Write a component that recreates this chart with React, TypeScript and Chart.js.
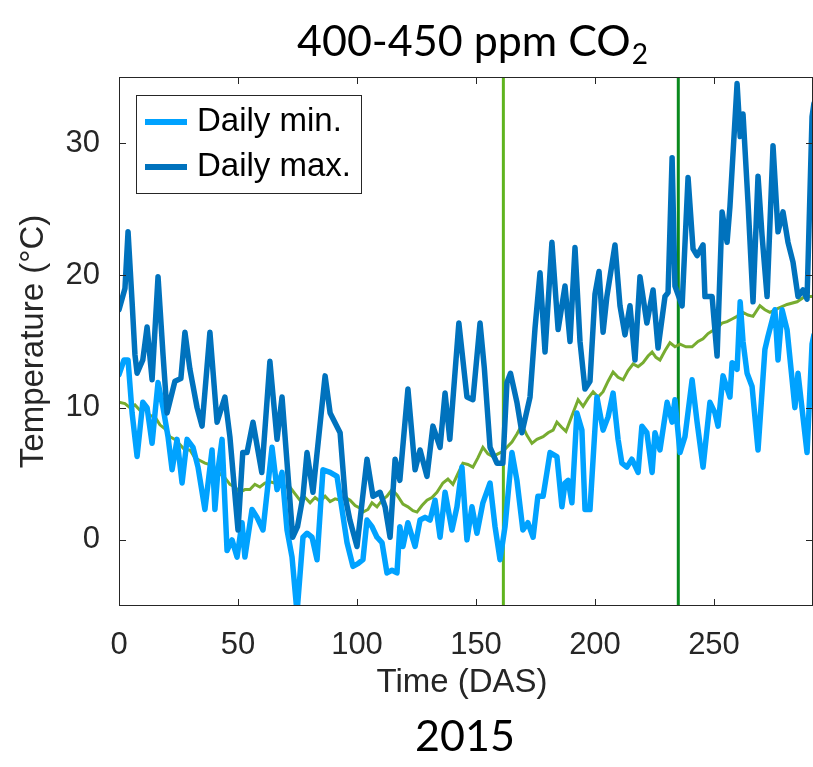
import React, { useEffect, useRef } from "react";
import { Chart, registerables } from "chart.js";

Chart.register(...registerables);

// ---- data ----
const xTicks = [0, 50, 100, 150, 200, 250];
const yTicks = [0, 10, 20, 30];
const xRange = [0, 291.6];
const yRange = [-5, 35];

const maxDays = [0, 2.5, 3.8, 5.5, 6.7, 7.6, 10, 11.8, 13.9, 16.4, 18.5, 20.2, 23.5, 26, 27.7, 29.8, 32.8, 34.9, 38.2, 41.2, 44.5, 46.6, 50, 52, 53.8, 56.3, 60, 63.4, 66.4, 68.5, 73, 75, 77.3, 79, 81.5, 86.6, 88.7, 92.9, 95, 97, 100, 104.2, 106.7, 109.7, 111.8, 113.9, 116, 118, 121.4, 124.4, 126.5, 129.4, 131.9, 134.9, 137, 139, 142.8, 146.2, 148.7, 151.7, 153.5, 155.9, 158.8, 161.3, 163, 164.5, 167.2, 169.3, 172.7, 174.8, 176.9, 179, 181.9, 184.5, 187.4, 189.5, 191.6, 193.7, 195.8, 197.9, 200, 201.7, 203.4, 205, 208.4, 210.5, 212.6, 214.7, 216.8, 218.9, 221.8, 224.4, 226.5, 229.4, 230.7, 232.4, 233.6, 236.6, 239.1, 241.2, 242.9, 245.4, 246.2, 249.2, 251.3, 253.4, 255.5, 256.7, 259.7, 261, 262.2, 264.3, 266.4, 268.5, 270.2, 272.3, 274.8, 276.9, 279, 281.1, 283.2, 285.3, 287.4, 289.1, 291.2, 292];
const maxTemps = [17.4, 19, 23.3, 18, 14, 12.6, 13.6, 16.1, 12.1, 19.9, 14, 9.6, 12, 12.2, 15.7, 12.9, 10, 8.6, 15.7, 8.9, 10.8, 7.8, 0.75, 6.6, 6.6, 8.9, 5.1, 13.5, 7.6, 10.8, 0.2, 1, 3.3, 6.6, 3.6, 12.4, 9.6, 8.1, 3.3, 1.5, -0.5, 6.1, 3.3, 3.6, 2.5, 0.2, 6.1, 4.5, 11.4, 5.3, 6.8, 4.8, 8.6, 7, 11.1, 7.6, 16.4, 10.8, 10.6, 16.4, 13, 7, 5.8, 5.8, 11.9, 12.6, 10.4, 8.1, 10.8, 16, 20.2, 14.2, 22.5, 15.9, 19.2, 15, 22.1, 15, 11.4, 12, 18.6, 20.3, 15.7, 18.4, 22.3, 17.7, 15.5, 17.7, 13.6, 19.9, 16.4, 18.9, 14.5, 18.4, 18.7, 28.9, 19.2, 17.7, 27.4, 22, 21.5, 22.3, 18.4, 18.4, 13.9, 24.8, 22.5, 25.2, 34.5, 30.5, 32.2, 25.5, 18, 27.5, 23, 18.4, 29.8, 23.3, 24.8, 22.5, 21, 18.4, 18.9, 18.2, 32, 33];

const minDays = [0, 2.1, 3.8, 5.5, 7.6, 10, 11.8, 13.9, 16.4, 18.5, 20.6, 22.3, 24.4, 26.5, 28.6, 31.1, 33.2, 36.1, 39.1, 40.3, 41.6, 43.3, 45.4, 47.5, 49.6, 51.7, 52.9, 55.9, 58, 60.5, 64.3, 66.4, 68.5, 70.6, 72.7, 74.8, 77.3, 79, 81.1, 83.2, 85.7, 88.7, 91.6, 93.7, 95.8, 98.3, 100.4, 102.5, 104.2, 106.3, 108.4, 110.5, 112.6, 114.7, 116.8, 118, 119.3, 121.4, 124.4, 126.5, 128.6, 130.7, 132.8, 134.9, 137, 139.9, 142, 144.1, 146.2, 148.3, 150.4, 152.9, 155.9, 158, 160.1, 162.2, 165.1, 167.2, 169.7, 171.8, 174, 176, 178.2, 179.8, 181.1, 184, 186.1, 187.4, 188.7, 190.3, 192.4, 194.5, 195.8, 197.9, 200.8, 203.4, 205.5, 207.6, 209.7, 211.3, 213.4, 215.5, 218.1, 219.7, 221.8, 224, 225.2, 227.3, 230.3, 232.4, 233.6, 235.7, 237.8, 240.8, 242.9, 245.4, 248.3, 250.4, 251.7, 253.8, 256.7, 257.6, 259.7, 261, 262.2, 263.9, 266, 268.5, 271.4, 272.7, 275.6, 276.9, 278.6, 280.7, 284, 285.3, 289.1, 291.2, 292];
const minTemps = [12.5, 13.6, 13.6, 9.6, 6.3, 10.4, 10, 7.3, 11.9, 10, 7.8, 5.3, 7.6, 4.3, 7.6, 7, 5.5, 2.3, 6.8, 2.3, 5.3, 7.6, -0.8, 0, -1.3, 1.3, -1.3, 2.3, 1.7, 0.75, 7, 3.8, 5.1, 0.75, -1.3, -5.5, 0.2, 0.5, 0.2, -1.5, 5.3, 5.1, 4.8, 2.3, -0.2, -2, -1.8, -1.5, 1.5, 1, 0.2, -0.2, -2.5, -2.3, -2.5, 1, -0.5, 1.3, -0.5, 1.5, 1.7, 1.5, 3, 0.2, 3.6, 0.75, 2.5, 5.5, 0, 2.5, 0.5, 2.8, 4.3, 1, -1.5, 1, 6.6, 4.5, 0.75, 1.3, 0.2, 3.3, 3.3, 5.1, 6.6, 6.3, 2.5, 4.3, 4.5, 2.8, 9.6, 8.3, 2.3, 2.3, 10.8, 8.3, 9.3, 11.1, 7.6, 5.8, 5.5, 6.1, 5.1, 8.6, 8.1, 5.1, 8.1, 6.8, 10.4, 8.9, 10.6, 6.6, 7.8, 12.1, 8.9, 5.5, 10.4, 9.6, 8.6, 12.4, 10.8, 13.4, 12.9, 18, 15, 12.6, 11.6, 6.8, 14.4, 15.4, 17.4, 13.6, 17.4, 15.9, 10, 12.6, 6.6, 14.8, 15.5];

const meanDays = [0, 2.5, 4.6, 6.7, 8.8, 10.9, 13, 15.1, 17.2, 19.3, 21.4, 23.5, 25.6, 27.7, 29.8, 31.9, 34, 36.1, 38.2, 40.3, 42.4, 44.5, 46.6, 48.7, 50.8, 52.9, 55, 57.1, 59.2, 61.3, 63.4, 65.5, 67.6, 69.7, 71.8, 73.9, 76, 78.2, 80.3, 82.4, 84.5, 86.6, 88.7, 90.8, 92.9, 95, 97.1, 99.2, 101.3, 102.5, 104.6, 106.3, 108.4, 110.5, 112.6, 114.7, 116.8, 119.3, 121.4, 123.5, 125.2, 127.3, 129.4, 131.5, 133.6, 136.1, 138.2, 140.3, 142.4, 144.5, 146.6, 148.7, 150.8, 152.9, 155, 157.1, 159.2, 161.3, 163, 165.1, 167.2, 169.3, 171.4, 173.5, 175.6, 178.2, 180.3, 182.4, 184, 186.1, 187.8, 189.5, 191.2, 192.9, 195, 197.1, 199.2, 201.3, 203.4, 205.5, 207.6, 209.7, 211.8, 213.9, 216, 218.1, 220.2, 222.3, 224, 225.6, 227.3, 229.4, 231.5, 233.6, 235.7, 238.2, 240.8, 243.3, 245.4, 247.5, 249.2, 251.3, 253.4, 255.5, 257.6, 259.7, 262.2, 264.3, 266.4, 269.3, 271.4, 273.5, 276.9, 280.7, 284.9, 288.2, 291.2, 292];
const meanTemps = [10.4, 10.3, 10, 10.2, 9.8, 9.9, 9.4, 9.3, 8.7, 8.4, 7.8, 7.6, 7.2, 6.8, 6.8, 6.2, 6, 5.8, 5.7, 5.3, 5, 4.7, 4.2, 4, 3.6, 3.8, 3.8, 4.2, 4, 4.3, 4.4, 4.3, 4.6, 4, 4, 3.5, 3, 3.2, 2.8, 3.2, 2.9, 3.3, 2.9, 3.1, 3, 3.2, 3, 2.6, 2.4, 2.1, 2.3, 2.8, 2.5, 3, 3.3, 3.8, 3.4, 2.7, 2.5, 2.2, 2.1, 2.6, 3, 3.2, 3.6, 4.3, 4.6, 4.2, 5, 5.8, 5.7, 5.5, 6.2, 7, 6.5, 6.3, 6.5, 6.7, 7, 7.4, 8, 8.7, 7.9, 7.3, 7.6, 7.8, 8.1, 8.3, 8.9, 8.5, 8.2, 9, 9.8, 10.6, 10.1, 10.7, 11.2, 10.8, 11.2, 12, 12.7, 12.3, 12.1, 12.8, 13.3, 13.1, 13.4, 13.9, 14.2, 13.8, 13.6, 14.3, 14.9, 14.6, 14.8, 14.6, 14.6, 15, 15.2, 15.6, 15.8, 16, 16.4, 16.5, 16.7, 16.9, 17.2, 17, 16.9, 17.7, 17.4, 17.2, 17.5, 17.8, 18, 18.4, 18.4, 18.5];

const eventDays = [161.5, 235];

const legendLabels = ["Daily min.", "Daily max."];
const titleMain = "400-450 ppm CO";
const titleSub = "2";
const yearLabel = "2015";
const xTitle = "Time (DAS)";
const yTitle = "Temperature (\u00B0C)";

const MIN_COLOR = "#00A2FF";
const MAX_COLOR = "#0072BD";
const MEAN_COLOR = "#77AC30";
const AXIS_COLOR = "#262626";
const AXIS_FONT = "'Liberation Sans', Arial, sans-serif";
const TITLE_FONT = "Lato, 'Open Sans', sans-serif";

const toPoints = (xs: number[], ys: number[]) => xs.map((x, i) => ({ x, y: ys[i] }));
const vLine = (d: number) => [
  { x: d, y: yRange[0] },
  { x: d, y: yRange[1] },
];

const decorPlugin = {
  id: "decor",
  afterDatasetsDraw(chart: any) {
    const { ctx, chartArea: a, scales } = chart;
    const xs = scales.x;
    const ys = scales.y;
    ctx.save();
    // axes box
    ctx.strokeStyle = AXIS_COLOR;
    ctx.lineWidth = 1;
    ctx.strokeRect(a.left + 0.5, a.top + 0.5, a.right - a.left - 1, a.bottom - a.top - 1);
    ctx.beginPath();
    const tl = 7;
    xTicks.forEach((v) => {
      const px = Math.round(xs.getPixelForValue(v)) + 0.5;
      ctx.moveTo(px, a.bottom);
      ctx.lineTo(px, a.bottom - tl);
      ctx.moveTo(px, a.top);
      ctx.lineTo(px, a.top + tl);
    });
    yTicks.forEach((v) => {
      const py = Math.round(ys.getPixelForValue(v)) + 0.5;
      ctx.moveTo(a.left, py);
      ctx.lineTo(a.left + tl, py);
      ctx.moveTo(a.right, py);
      ctx.lineTo(a.right - tl, py);
    });
    ctx.stroke();

    // legend
    const lx = a.left + 17;
    const ly = a.top + 18;
    ctx.fillStyle = "#ffffff";
    ctx.fillRect(lx + 0.5, ly + 0.5, 225, 98);
    ctx.strokeStyle = AXIS_COLOR;
    ctx.lineWidth = 1;
    ctx.strokeRect(lx + 0.5, ly + 0.5, 225, 98);
    const colors = [MIN_COLOR, MAX_COLOR];
    legendLabels.forEach((lab, i) => {
      const yy = ly + 27 + i * 45;
      ctx.strokeStyle = colors[i];
      ctx.lineWidth = 6;
      ctx.beginPath();
      ctx.moveTo(lx + 9, yy);
      ctx.lineTo(lx + 51, yy);
      ctx.stroke();
      ctx.fillStyle = "#000000";
      ctx.font = `33px ${AXIS_FONT}`;
      ctx.textAlign = "left";
      ctx.textBaseline = "middle";
      ctx.fillText(lab, lx + 61, yy);
    });

    // axis titles
    ctx.fillStyle = AXIS_COLOR;
    ctx.font = `33px ${AXIS_FONT}`;
    ctx.textAlign = "center";
    ctx.textBaseline = "middle";
    ctx.fillText(xTitle, 462, 683);
    ctx.save();
    ctx.translate(34, (a.top + a.bottom) / 2);
    ctx.rotate(-Math.PI / 2);
    ctx.fillText(yTitle, 0, 0);
    ctx.restore();

    // figure titles
    ctx.fillStyle = "#000000";
    ctx.textBaseline = "alphabetic";
    ctx.textAlign = "left";
    ctx.font = `43px ${TITLE_FONT}`;
    const w1 = ctx.measureText(titleMain).width;
    ctx.font = `28px ${TITLE_FONT}`;
    const w2 = ctx.measureText(titleSub).width;
    const sx = 472 - (w1 + w2) / 2;
    ctx.font = `43px ${TITLE_FONT}`;
    ctx.fillText(titleMain, sx, 56);
    ctx.font = `28px ${TITLE_FONT}`;
    ctx.fillText(titleSub, sx + w1 + 1, 64);
    ctx.font = `43px ${TITLE_FONT}`;
    ctx.textAlign = "center";
    ctx.fillText(yearLabel, 465, 751);
    ctx.restore();
  },
};

export default function App() {
  const ref = useRef<HTMLCanvasElement | null>(null);
  useEffect(() => {
    if (!ref.current) return;
    const chart = new Chart(ref.current, {
      type: "line",
      data: {
        datasets: [
          { label: "Daily max.", data: toPoints(maxDays, maxTemps), borderColor: MAX_COLOR, borderWidth: 5.5, pointRadius: 0, tension: 0, borderJoinStyle: "round", borderCapStyle: "round" },
          { label: "Daily min.", data: toPoints(minDays, minTemps), borderColor: MIN_COLOR, borderWidth: 5.5, pointRadius: 0, tension: 0, borderJoinStyle: "round", borderCapStyle: "round" },
          { label: "Mean", data: toPoints(meanDays, meanTemps), borderColor: MEAN_COLOR, borderWidth: 3, pointRadius: 0, tension: 0 },
          { label: "Event 1", data: vLine(eventDays[0]), borderColor: "#5fb41e", borderWidth: 3, pointRadius: 0 },
          { label: "Event 2", data: vLine(eventDays[1]), borderColor: "#0a8a1e", borderWidth: 3, pointRadius: 0 },
        ],
      } as any,
      options: {
        responsive: false,
        animation: false,
        events: [],
        layout: { padding: { top: 77, left: 0, right: 0, bottom: 0 } },
        plugins: { legend: { display: false }, title: { display: false }, tooltip: { enabled: false } },
        scales: {
          x: {
            type: "linear",
            min: xRange[0],
            max: xRange[1],
            afterBuildTicks: (s: any) => {
              s.ticks = xTicks.map((v) => ({ value: v }));
            },
            afterFit: (s: any) => {
              s.height = 161;
            },
            grid: { display: false, drawTicks: false },
            border: { display: false },
            ticks: { padding: 21, color: AXIS_COLOR, maxRotation: 0, autoSkip: false, font: { family: AXIS_FONT, size: 31 } },
          },
          y: {
            type: "linear",
            min: yRange[0],
            max: yRange[1],
            afterBuildTicks: (s: any) => {
              s.ticks = yTicks.map((v) => ({ value: v }));
            },
            afterFit: (s: any) => {
              s.width = 119;
            },
            grid: { display: false, drawTicks: false },
            border: { display: false },
            ticks: { padding: 19, color: AXIS_COLOR, autoSkip: false, font: { family: AXIS_FONT, size: 31 } },
          },
        },
      } as any,
      plugins: [decorPlugin],
    });
    return () => chart.destroy();
  }, []);
  return (
    <div style={{ position: "fixed", left: 0, top: 0, width: 813, height: 767, background: "#fff" }}>
      <canvas ref={ref} width={813} height={767} style={{ display: "block" }} />
    </div>
  );
}
